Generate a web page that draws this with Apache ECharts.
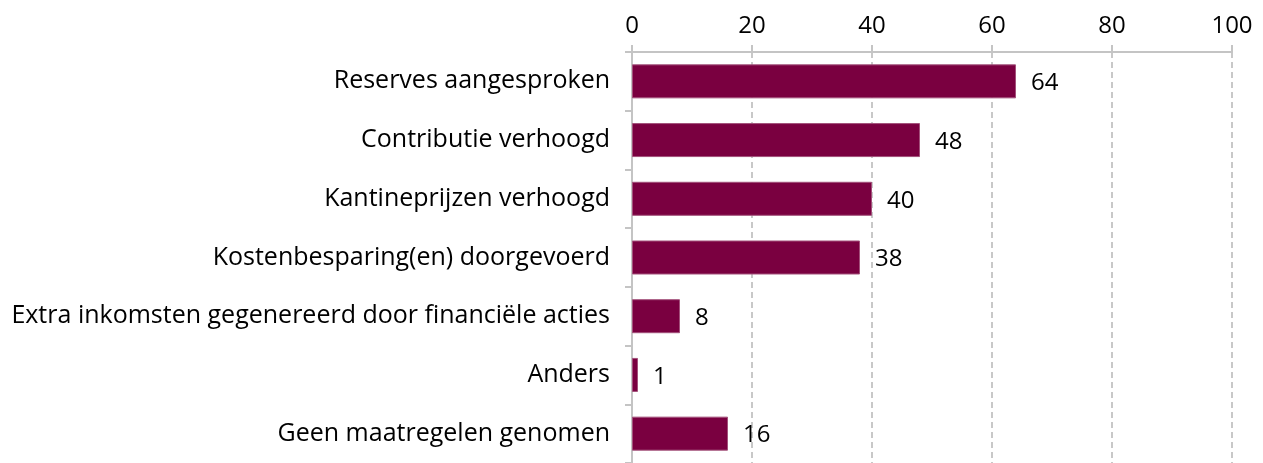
<!DOCTYPE html>
<html>
<head>
<meta charset="utf-8">
<script src="https://cdn.jsdelivr.net/npm/echarts@6/dist/echarts.min.js"></script>
<style>html,body{margin:0;padding:0;background:#fff;}#c{width:1263px;height:463px;}</style>
</head>
<body>
<div id="c"></div>
<script>
const categories = [
  'Reserves aangesproken',
  'Contributie verhoogd',
  'Kantineprijzen verhoogd',
  'Kostenbesparing(en) doorgevoerd',
  'Extra inkomsten gegenereerd door financiële acties',
  'Anders',
  'Geen maatregelen genomen'
];
const values = [64, 48, 40, 38, 8, 1, 16];
const xTicks = [0, 20, 40, 60, 80, 100];

const FONT = '"Open Sans", sans-serif';
const chart = echarts.init(document.getElementById('c'), null, {renderer: 'canvas'});
chart.setOption({
  animation: false,
  grid: {left: 632, right: 31, top: 52, height: 413, containLabel: false},
  xAxis: {
    type: 'value', position: 'top', min: xTicks[0], max: xTicks[xTicks.length - 1], interval: 20,
    axisLine: {show: true, lineStyle: {color: '#c4c4c4', width: 2}},
    axisTick: {show: true, length: 7, lineStyle: {color: '#c4c4c4', width: 2}},
    axisLabel: {color: '#000', fontFamily: FONT, fontSize: 24, margin: 14},
    splitLine: {show: true, lineStyle: {color: '#c8c8c8', type: [6, 4], width: 2}}
  },
  yAxis: {
    type: 'category', inverse: true, data: categories,
    axisLine: {show: true, lineStyle: {color: '#c4c4c4', width: 2}},
    axisTick: {show: true, length: 7, lineStyle: {color: '#c4c4c4', width: 2}},
    axisLabel: {color: '#000', fontFamily: FONT, fontSize: 25, margin: 22}
  },
  series: [{
    type: 'bar', data: values, barWidth: 34,
    itemStyle: {color: '#7a0040', borderColor: '#a3507a', borderWidth: 1},
    label: {show: true, position: 'right', distance: 15, offset: [0, 2], color: '#000', fontFamily: FONT, fontSize: 24}
  }]
});
</script>
</body>
</html>
